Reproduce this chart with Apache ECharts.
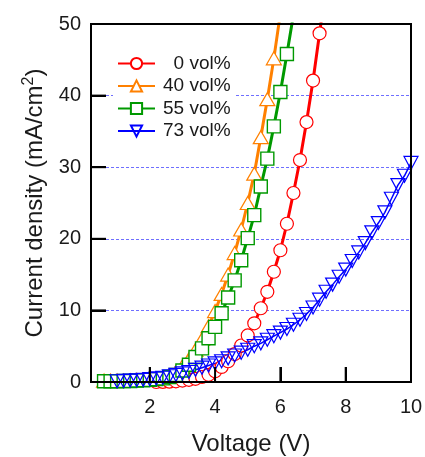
<!DOCTYPE html>
<html>
<head>
<meta charset="utf-8">
<script src="https://cdn.jsdelivr.net/npm/echarts@6/dist/echarts.min.js"></script>
<style>
  html, body { margin: 0; padding: 0; background: #fff; }
  #chart { width: 425px; height: 457px; }
</style>
</head>
<body>
<div id="chart"></div>
<script>
// 数据
var seriesNames = ['  0 vol%', '40 vol%', '55 vol%', '73 vol%'];

var v0 = [2.2, 2.4, 2.6, 2.8, 3.0, 3.2, 3.4, 3.6, 3.8, 4.0, 4.2, 4.4, 4.6, 4.8, 5.0, 5.2, 5.4, 5.6, 5.8, 6.0, 6.2, 6.4, 6.6, 6.8, 7.0, 7.2, 7.4];
var j0 = [0, 0.02, 0.05, 0.1, 0.2, 0.3, 0.45, 0.7, 1.0, 1.5, 2.1, 2.9, 3.9, 5.1, 6.5, 8.2, 10.3, 12.6, 15.4, 18.4, 22.1, 26.4, 31.0, 36.3, 42.1, 48.7, 55.5];

var v40 = [0.6, 0.8, 1.0, 1.2, 1.4, 1.6, 1.8, 2.0, 2.2, 2.4, 2.6, 2.8, 3.0, 3.2, 3.4, 3.6, 3.8, 4.0, 4.2, 4.4, 4.6, 4.8, 5.0, 5.2, 5.4, 5.6, 5.8, 6.0];
var j40 = [0.2, 0.2, 0.2, 0.2, 0.25, 0.3, 0.3, 0.35, 0.45, 0.6, 0.9, 1.4, 2.2, 3.2, 4.5, 6.0, 7.8, 9.9, 12.3, 15.0, 18.0, 21.3, 25.0, 29.1, 34.2, 39.5, 45.2, 51.5];

var v55 = [0.6, 0.8, 1.0, 1.2, 1.4, 1.6, 1.8, 2.0, 2.2, 2.4, 2.6, 2.8, 3.0, 3.2, 3.4, 3.6, 3.8, 4.0, 4.2, 4.4, 4.6, 4.8, 5.0, 5.2, 5.4, 5.6, 5.8, 6.0, 6.2, 6.4];
var j55 = [0.1, 0.1, 0.1, 0.15, 0.15, 0.2, 0.25, 0.3, 0.4, 0.5, 0.7, 1.0, 1.6, 2.4, 3.5, 4.7, 6.1, 7.7, 9.6, 11.8, 14.2, 17.0, 20.1, 23.3, 27.3, 31.2, 35.7, 40.5, 45.8, 51.3];

var v73 = [1.0, 1.2, 1.4, 1.6, 1.8, 2.0, 2.2, 2.4, 2.6, 2.8, 3.0, 3.2, 3.4, 3.6, 3.8, 4.0, 4.2, 4.4, 4.6, 4.8, 5.0, 5.2, 5.4, 5.6, 5.8, 6.0, 6.2, 6.4, 6.6, 6.8, 7.0, 7.2, 7.4, 7.6, 7.8, 8.0, 8.2, 8.4, 8.6, 8.8, 9.0, 9.2, 9.4, 9.6, 9.8, 10.0];
var j73 = [0.1, 0.15, 0.2, 0.25, 0.3, 0.4, 0.5, 0.6, 0.8, 1.0, 1.2, 1.4, 1.7, 2.0, 2.3, 2.6, 2.9, 3.3, 3.7, 4.1, 4.5, 5.0, 5.4, 5.9, 6.4, 6.9, 7.4, 8.0, 8.7, 9.5, 10.4, 11.5, 12.6, 13.6, 14.7, 15.7, 16.9, 18.1, 19.4, 20.9, 22.2, 23.7, 25.6, 27.5, 28.8, 30.6];

var xTicks = [2, 4, 6, 8, 10];
var yTicks = [0, 10, 20, 30, 40, 50];
var xMin = 0.2, xMax = 10, yMin = 0, yMax = 50;

function pairs(xs, ys) {
    return xs.map(function(x, i) { return [x, ys[i]]; });
}

var chart = echarts.init(document.getElementById('chart'));
var font = 'Liberation Sans, Arial, sans-serif';

var option = {
    animation: false,
    backgroundColor: '#fff',
    grid: {
        left: 91, right: 14, top: 24, bottom: 75,
        outerBoundsMode: 'none',
        show: true,
        borderColor: '#000',
        borderWidth: 2
    },
    legend: {
        orient: 'vertical',
        left: 113,
        top: 52,
        itemWidth: 37,
        itemHeight: 14,
        itemGap: 3.5,
        padding: [2, 4, 2, 4],
        backgroundColor: '#fff',
        textStyle: { fontSize: 19, color: '#1a1a1a', fontFamily: font, padding: [0, 0, 0, 3] },
        data: seriesNames
    },
    xAxis: {
        type: 'value',
        min: xMin,
        max: xMax,
        name: 'Voltage (V)',
        nameLocation: 'middle',
        nameGap: 50,
        nameTextStyle: { fontSize: 24, color: '#1a1a1a', fontFamily: font },
        axisLine: { show: true, onZero: false, lineStyle: { color: '#000', width: 2 } },
        axisTick: { show: true, inside: true, length: 15, customValues: xTicks, lineStyle: { color: '#000', width: 2 } },
        axisLabel: { customValues: xTicks, fontSize: 20, color: '#1a1a1a', margin: 15, fontFamily: font },
        splitLine: { show: false }
    },
    yAxis: {
        type: 'value',
        min: yMin,
        max: yMax,
        interval: 10,
        name: 'Current density (mA/cm{sup|2})',
        nameLocation: 'middle',
        nameGap: 38,
        nameTextStyle: {
            fontSize: 24, color: '#1a1a1a', fontFamily: font,
            rich: { sup: { fontSize: 16, color: '#1a1a1a', fontFamily: font, padding: [0, 0, 14, 0] } }
        },
        axisLine: { show: true, lineStyle: { color: '#000', width: 2 } },
        axisTick: { show: true, inside: true, length: 15, lineStyle: { color: '#000', width: 2 } },
        axisLabel: { fontSize: 20, color: '#1a1a1a', margin: 10, fontFamily: font },
        splitLine: {
            show: true, showMinLine: false, showMaxLine: false,
            lineStyle: { color: '#6f6fff', width: 1, type: [3, 2] }
        }
    },
    series: [{
        name: seriesNames[0],
        type: 'line',
        data: pairs(v0, j0),
        symbol: 'circle',
        symbolSize: 13,
        lineStyle: { color: '#ff0000', width: 3 },
        itemStyle: { color: '#fff', borderColor: '#ff0000', borderWidth: 1.2 }
    }, {
        name: seriesNames[1],
        type: 'line',
        data: pairs(v40, j40),
        symbol: 'triangle',
        symbolSize: [15, 13],
        lineStyle: { color: '#ff8000', width: 3 },
        itemStyle: { color: '#fff', borderColor: '#ff8000', borderWidth: 1.2 }
    }, {
        name: seriesNames[2],
        type: 'line',
        data: pairs(v55, j55),
        symbol: 'rect',
        symbolSize: 13,
        lineStyle: { color: '#009900', width: 3 },
        itemStyle: { color: '#fff', borderColor: '#009900', borderWidth: 1.4 }
    }, {
        name: seriesNames[3],
        type: 'line',
        data: pairs(v73, j73),
        symbol: 'triangle',
        symbolRotate: 180,
        symbolSize: [14, 13],
        clip: false,
        lineStyle: { color: '#0000ff', width: 1.5 },
        itemStyle: { color: 'rgba(255,255,255,0)', borderColor: '#0000ff', borderWidth: 1.2 }
    }]
};

chart.setOption(option);

// 边框和刻度线：用坐标轴换算出的像素位置画出来
function px(x, y) {
    return chart.convertToPixel({ xAxisIndex: 0, yAxisIndex: 0 }, [x, y]);
}
var els = [];
function addLine(a, b) {
    els.push({
        type: 'line',
        z: 50,
        silent: true,
        shape: { x1: a[0], y1: a[1], x2: b[0], y2: b[1] },
        style: { stroke: '#000', lineWidth: 2 }
    });
}
var tl = px(xMin, yMax), br = px(xMax, yMin);
els.push({
    type: 'rect',
    z: 50,
    silent: true,
    shape: { x: tl[0], y: tl[1], width: br[0] - tl[0], height: br[1] - tl[1] },
    style: { fill: 'none', stroke: '#000', lineWidth: 2 }
});
yTicks.forEach(function(v) {
    var p = px(xMin, v);
    addLine(p, [p[0] + 15, p[1]]);
});
xTicks.forEach(function(v) {
    var p = px(v, yMin);
    addLine(p, [p[0], p[1] - 15]);
});
chart.setOption({ graphic: els });
</script>
</body>
</html>
